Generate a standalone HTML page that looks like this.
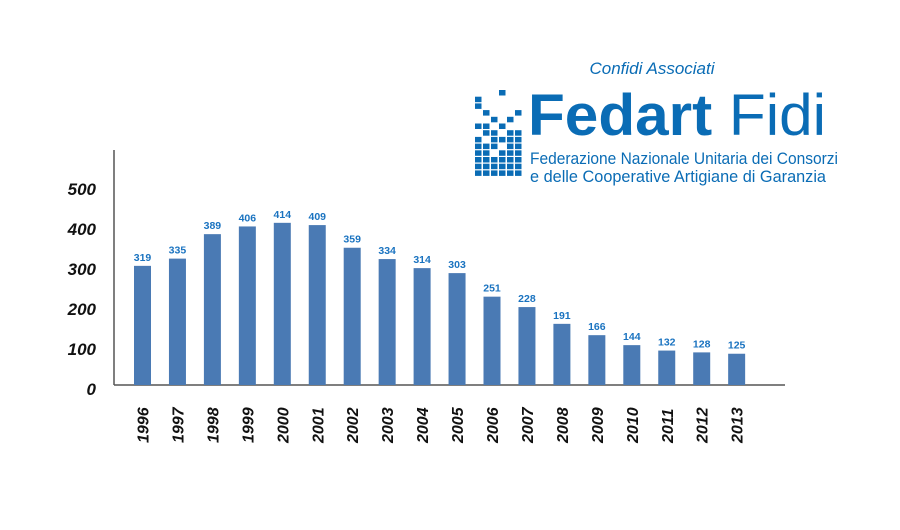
<!DOCTYPE html>
<html><head><meta charset="utf-8">
<style>
html,body{margin:0;padding:0;background:#fff;}
svg{display:block;}
text{font-family:"Liberation Sans",sans-serif;}
</style></head>
<body>
<svg id="chart" width="900" height="530" viewBox="0 0 900 530" xmlns="http://www.w3.org/2000/svg">
  <g id="logo">
    <text x="652" y="74" text-anchor="middle" font-size="17" font-style="italic" fill="#0a6cb5">Confidi Associati</text>
    <text x="528" y="135" font-size="58" fill="#0a6cb5" textLength="298" lengthAdjust="spacingAndGlyphs"><tspan font-weight="bold">Fedart</tspan> Fidi</text>
    <text x="530" y="164" font-size="17" fill="#0a6cb5" textLength="308" lengthAdjust="spacingAndGlyphs">Federazione Nazionale Unitaria dei Consorzi</text>
    <text x="530" y="182" font-size="17" fill="#0a6cb5" textLength="296" lengthAdjust="spacingAndGlyphs">e delle Cooperative Artigiane di Garanzia</text>
    <g id="grid"></g>
  </g>
  <g id="axes"></g>
  <g id="bars"></g>
</svg>
<script>
const years = ["1996","1997","1998","1999","2000","2001","2002","2003","2004","2005","2006","2007","2008","2009","2010","2011","2012","2013"];
const values = [319,335,389,406,414,409,359,334,314,303,251,228,191,166,144,132,128,125];
const yTicks = [0,100,200,300,400,500];

const NS = "http://www.w3.org/2000/svg";
function mk(tag, attrs, parent){ const e=document.createElementNS(NS,tag); for(const k in attrs) e.setAttribute(k,attrs[k]); parent.appendChild(e); return e; }

// logo pixel grid
const gridRows = ["000100","100000","100000","010001","001010","110100","011011","101111","111011","110111","111111","111111","111111"];
const grid = document.getElementById('grid');
gridRows.forEach((row,r)=>{ for(let c=0;c<row.length;c++){ if(row[c]==="1"){
  const cell = mk('rect',{x:475+c*8,y:90+r*6.7,width:6.5,height:5.5,fill:'#0a6cb5'},grid);
  
  
}}});

// axes
const baseY = 385;
function yTickPos(v){ return 389 - v*0.4; }
function barH(v){ return Math.max(0,(v-56)*0.453); }
function xCenter(i){ return 142.5 + i*34.95; }
const axes = document.getElementById('axes');
const yAxis = mk('line',{x1:114,y1:150,x2:114,y2:baseY,stroke:'#555','stroke-width':1.5},axes);


const xAxis = mk('line',{x1:114,y1:baseY,x2:785,y2:baseY,stroke:'#555','stroke-width':1.5},axes);


yTicks.forEach(v=>{
  const t = mk('text',{x:96,y:yTickPos(v)+6,'text-anchor':'end','font-size':17,'font-weight':'bold','font-style':'italic',fill:'#111'},axes);
  t.textContent = v;
  
  
});

const bars = document.getElementById('bars');
values.forEach((v,i)=>{
  const h = barH(v), cx = xCenter(i);
  const b = mk('rect',{x:cx-8.5,y:baseY-h,width:17,height:h,fill:'#4a7ab4'},bars);
  
  
  const l = mk('text',{x:cx,y:baseY-h-5,'text-anchor':'middle','font-size':10.5,'font-weight':'bold',fill:'#1a73c0'},bars);
  l.textContent = v;
  
  
  const yl = mk('text',{x:0,y:0,'text-anchor':'start','font-size':16,'font-weight':'bold','font-style':'italic',fill:'#111',transform:'translate('+(cx+6)+',443) rotate(-90)'},bars);
  yl.textContent = years[i];
  
  
});
</script>
</body></html>
